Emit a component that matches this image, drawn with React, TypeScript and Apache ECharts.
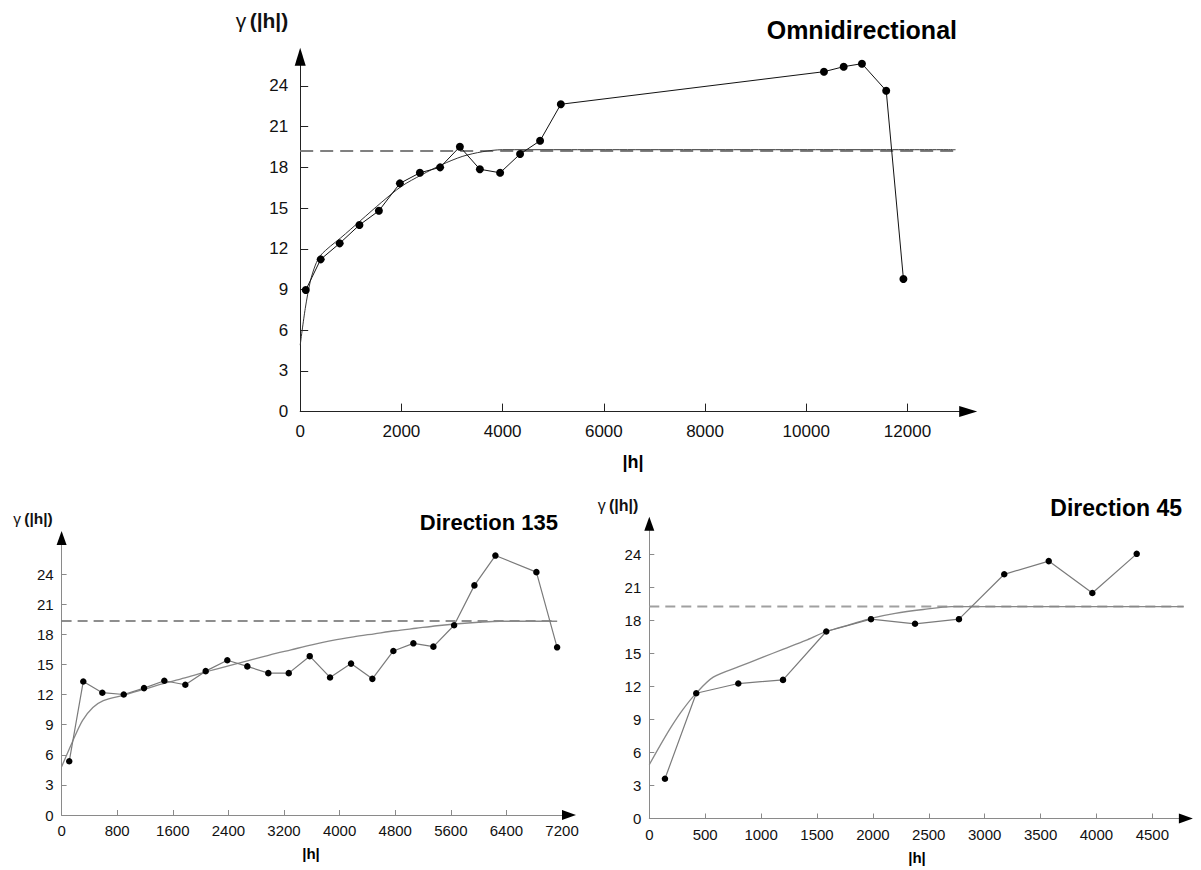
import React, { useEffect, useRef } from 'react';
import * as echarts from 'echarts';

const FONT = '"Liberation Sans", Arial, Helvetica, sans-serif';

// ---------- Omnidirectional ----------
const omniLag = [110, 405, 780, 1170, 1555, 1970, 2365, 2765, 3155, 3550, 3950, 4345, 4740, 5150, 10350, 10740, 11100, 11580, 11920];
const omniGamma = [8.96, 11.22, 12.4, 13.75, 14.8, 16.82, 17.6, 18.0, 19.52, 17.86, 17.6, 18.98, 19.96, 22.65, 25.05, 25.42, 25.64, 23.65, 9.77];
const omniModelLag = [0, 100, 200, 300, 400, 600, 800, 1200, 1600, 2000, 2400, 2800, 3200, 3600, 4000, 5000, 12950];
const omniModel = [4.9, 7.6, 9.6, 10.8, 11.5, 12.2, 12.8, 14.1, 15.4, 16.6, 17.45, 18.2, 18.8, 19.15, 19.3, 19.3, 19.3];
const omniSillLag = [0, 12950];
const omniSill = [19.2, 19.2];
const omniXTicks = [0, 2000, 4000, 6000, 8000, 10000, 12000];
const omniYTicks = [0, 3, 6, 9, 12, 15, 18, 21, 24];

// ---------- Direction 135 ----------
const d135Lag = [110, 312, 586, 894, 1186, 1478, 1780, 2073, 2384, 2672, 2974, 3268, 3570, 3862, 4164, 4471, 4773, 5061, 5349, 5647, 5939, 6241, 6831, 7129];
const d135Gamma = [5.35, 13.3, 12.18, 12.0, 12.64, 13.37, 12.97, 14.33, 15.41, 14.8, 14.13, 14.13, 15.82, 13.7, 15.08, 13.56, 16.34, 17.1, 16.77, 18.9, 22.87, 25.84, 24.19, 16.7];
const d135ModelLag = [0, 150, 300, 450, 600, 900, 1200, 1500, 1800, 2100, 2400, 2700, 3000, 3300, 3600, 3900, 4200, 4500, 4800, 5100, 5400, 5700, 6000, 6300, 7130];
const d135Model = [4.8, 7.2, 9.4, 10.7, 11.4, 11.95, 12.55, 13.15, 13.7, 14.3, 14.85, 15.4, 15.95, 16.45, 16.95, 17.4, 17.75, 18.05, 18.35, 18.6, 18.85, 19.05, 19.2, 19.3, 19.3];
const d135SillLag = [0, 7130];
const d135Sill = [19.32, 19.32];
const d135XTicks = [0, 800, 1600, 2400, 3200, 4000, 4800, 5600, 6400, 7200];
const d135YTicks = [0, 3, 6, 9, 12, 15, 18, 21, 24];

// ---------- Direction 45 ----------
const d45Lag = [140, 420, 796, 1196, 1583, 1983, 2377, 2770, 3175, 3573, 3963, 4360];
const d45Gamma = [3.61, 11.39, 12.27, 12.6, 17.0, 18.12, 17.7, 18.12, 22.2, 23.4, 20.5, 24.06];
const d45ModelLag = [0, 100, 200, 300, 420, 572, 800, 1000, 1200, 1400, 1583, 1800, 1983, 2200, 2450, 2700, 3200, 4780];
const d45Model = [4.9, 6.7, 8.4, 9.9, 11.4, 12.85, 13.8, 14.6, 15.4, 16.2, 17.0, 17.65, 18.2, 18.65, 19.0, 19.27, 19.27, 19.27];
const d45SillLag = [0, 4780];
const d45Sill = [19.27, 19.27];
const d45XTicks = [0, 500, 1000, 1500, 2000, 2500, 3000, 3500, 4000, 4500];
const d45YTicks = [0, 3, 6, 9, 12, 15, 18, 21, 24];

const pairs = (xs: number[], ys: number[]) => xs.map((x, i) => [x, ys[i]]);

type Cfg = {
  xMax: number; yMax: number; xTicks: number[]; yTicks: number[];
  axisColor: string; tickLen: number; font: number; xMargin: number; yMargin: number;
  arrowW: number; arrowL: number; xOff: number; yOff: number;
};

function buildAxes(gi: number, c: Cfg, xAxes: any[], yAxes: any[]) {
  const label = (ticks: number[], margin: number) => ({
    show: true, customValues: ticks, fontSize: c.font, fontFamily: FONT, color: '#111', margin,
    formatter: (v: number) => String(v),
  });
  xAxes.push({
    type: 'value', gridIndex: gi, position: 'bottom', min: 0, max: c.xMax, splitLine: { show: false },
    axisLine: { show: true, onZero: false, lineStyle: { color: c.axisColor, width: 1 } },
    axisTick: { show: true, inside: true, length: c.tickLen, customValues: c.xTicks, lineStyle: { color: c.axisColor, width: 1 } },
    axisLabel: label(c.xTicks, c.xMargin),
  });
  xAxes.push({
    type: 'value', gridIndex: gi, position: 'bottom', min: 0, max: c.xMax, splitLine: { show: false },
    axisTick: { show: false }, axisLabel: { show: false },
    axisLine: { show: true, onZero: false, symbol: ['none', 'triangle'], symbolSize: [c.arrowW, c.arrowL], symbolOffset: [0, c.xOff], lineStyle: { color: '#000', width: 0 } },
  });
  yAxes.push({
    type: 'value', gridIndex: gi, position: 'left', min: 0, max: c.yMax, splitLine: { show: false },
    axisLine: { show: true, onZero: false, lineStyle: { color: c.axisColor, width: 1 } },
    axisTick: { show: true, inside: true, length: c.tickLen, customValues: c.yTicks, lineStyle: { color: c.axisColor, width: 1 } },
    axisLabel: label(c.yTicks, c.yMargin),
  });
  yAxes.push({
    type: 'value', gridIndex: gi, position: 'left', min: 0, max: c.yMax, splitLine: { show: false },
    axisTick: { show: false }, axisLabel: { show: false },
    axisLine: { show: true, onZero: false, symbol: ['none', 'triangle'], symbolSize: [c.arrowW, c.arrowL], symbolOffset: [0, c.yOff], lineStyle: { color: '#000', width: 0 } },
  });
}

function seriesFor(gi: number, lag: number[], gamma: number[], mLag: number[], model: number[], sLag: number[], sill: number[], s: any) {
  const idx = { xAxisIndex: gi * 2, yAxisIndex: gi * 2 };
  return [
    {
      type: 'line', ...idx, data: pairs(sLag, sill), symbol: 'none', silent: true,
      lineStyle: { color: s.sillColor, width: s.sillWidth, type: s.dash },
    },
    {
      type: 'line', ...idx, data: pairs(mLag, model), symbol: 'none', smooth: 0.3, silent: true,
      lineStyle: { color: s.modelColor, width: s.modelWidth },
    },
    {
      type: 'line', ...idx, data: pairs(lag, gamma), symbol: 'circle', symbolSize: s.dot, silent: true,
      itemStyle: { color: '#000' }, lineStyle: { color: s.dataColor, width: s.dataWidth },
    },
  ];
}

const yName = (x: number, y: number, size: number) => ({
  type: 'text', x, y,
  style: {
    text: '{g|γ} {b|(|h|)}', align: 'center', verticalAlign: 'middle',
    rich: {
      g: { fontSize: size, fontFamily: FONT, fill: '#111' },
      b: { fontSize: size, fontFamily: FONT, fontWeight: 'bold', fill: '#111' },
    },
  },
});
const boldText = (text: string, x: number, y: number, size: number, align: string) => ({
  type: 'text', x, y,
  style: { text, fontSize: size, fontWeight: 'bold', fontFamily: FONT, fill: '#000', align, verticalAlign: 'middle' },
});

export default function App() {
  const ref = useRef<HTMLDivElement>(null);
  useEffect(() => {
    if (!ref.current) return;
    const chart = echarts.init(ref.current, undefined, { renderer: 'svg' });
    const xAxes: any[] = [];
    const yAxes: any[] = [];
    buildAxes(0, { xMax: 13200, yMax: 26, xTicks: omniXTicks, yTicks: omniYTicks, axisColor: '#222', tickLen: 8, font: 17, xMargin: 11, yMargin: 12, arrowW: 11, arrowL: 18, xOff: 0, yOff: 2 }, xAxes, yAxes);
    buildAxes(1, { xMax: 7300, yMax: 27.5, xTicks: d135XTicks, yTicks: d135YTicks, axisColor: '#8a8a8a', tickLen: 5, font: 15, xMargin: 8, yMargin: 8, arrowW: 10, arrowL: 14, xOff: 0, yOff: 1 }, xAxes, yAxes);
    buildAxes(2, { xMax: 4800, yMax: 26.8, xTicks: d45XTicks, yTicks: d45YTicks, axisColor: '#8a8a8a', tickLen: 5, font: 15, xMargin: 8, yMargin: 8, arrowW: 10, arrowL: 14, xOff: 0, yOff: 0 }, xAxes, yAxes);

    const topStyle = { sillColor: '#808080', sillWidth: 2, dash: [13, 7], modelColor: '#333', modelWidth: 1, dataColor: '#111', dataWidth: 1, dot: 8 };
    const botStyle = { sillColor: '#6a6a6a', sillWidth: 1.5, dash: [10, 6], modelColor: '#888', modelWidth: 1.3, dataColor: '#7a7a7a', dataWidth: 1.2, dot: 6.5 };
    const rightStyle = { ...botStyle, sillColor: '#a0a0a0', sillWidth: 2 };

    chart.setOption({
      animation: false,
      backgroundColor: '#fff',
      grid: [
        { left: 300.2, top: 58.8, width: 668, height: 352.8 },
        { left: 61.6, top: 538.9, width: 507.4, height: 276.1 },
        { left: 649.3, top: 523.7, width: 536.6, height: 294.8 },
      ],
      xAxis: xAxes,
      yAxis: yAxes,
      series: [
        ...seriesFor(0, omniLag, omniGamma, omniModelLag, omniModel, omniSillLag, omniSill, topStyle),
        ...seriesFor(1, d135Lag, d135Gamma, d135ModelLag, d135Model, d135SillLag, d135Sill, botStyle),
        ...seriesFor(2, d45Lag, d45Gamma, d45ModelLag, d45Model, d45SillLag, d45Sill, rightStyle),
      ],
      graphic: [
        boldText('Omnidirectional', 957, 30, 25, 'right'),
        yName(262, 20, 21),
        boldText('|h|', 633, 462, 18, 'center'),
        boldText('Direction 135', 558, 522, 22, 'right'),
        yName(33, 518, 15.5),
        boldText('|h|', 311, 853, 15, 'center'),
        boldText('Direction 45', 1182, 508, 23, 'right'),
        yName(618, 505, 16),
        boldText('|h|', 917, 857, 15, 'center'),
      ],
    });
    return () => chart.dispose();
  }, []);
  return <div ref={ref} style={{ position: 'absolute', left: 0, top: 0, width: 1201, height: 870 }} />;
}
